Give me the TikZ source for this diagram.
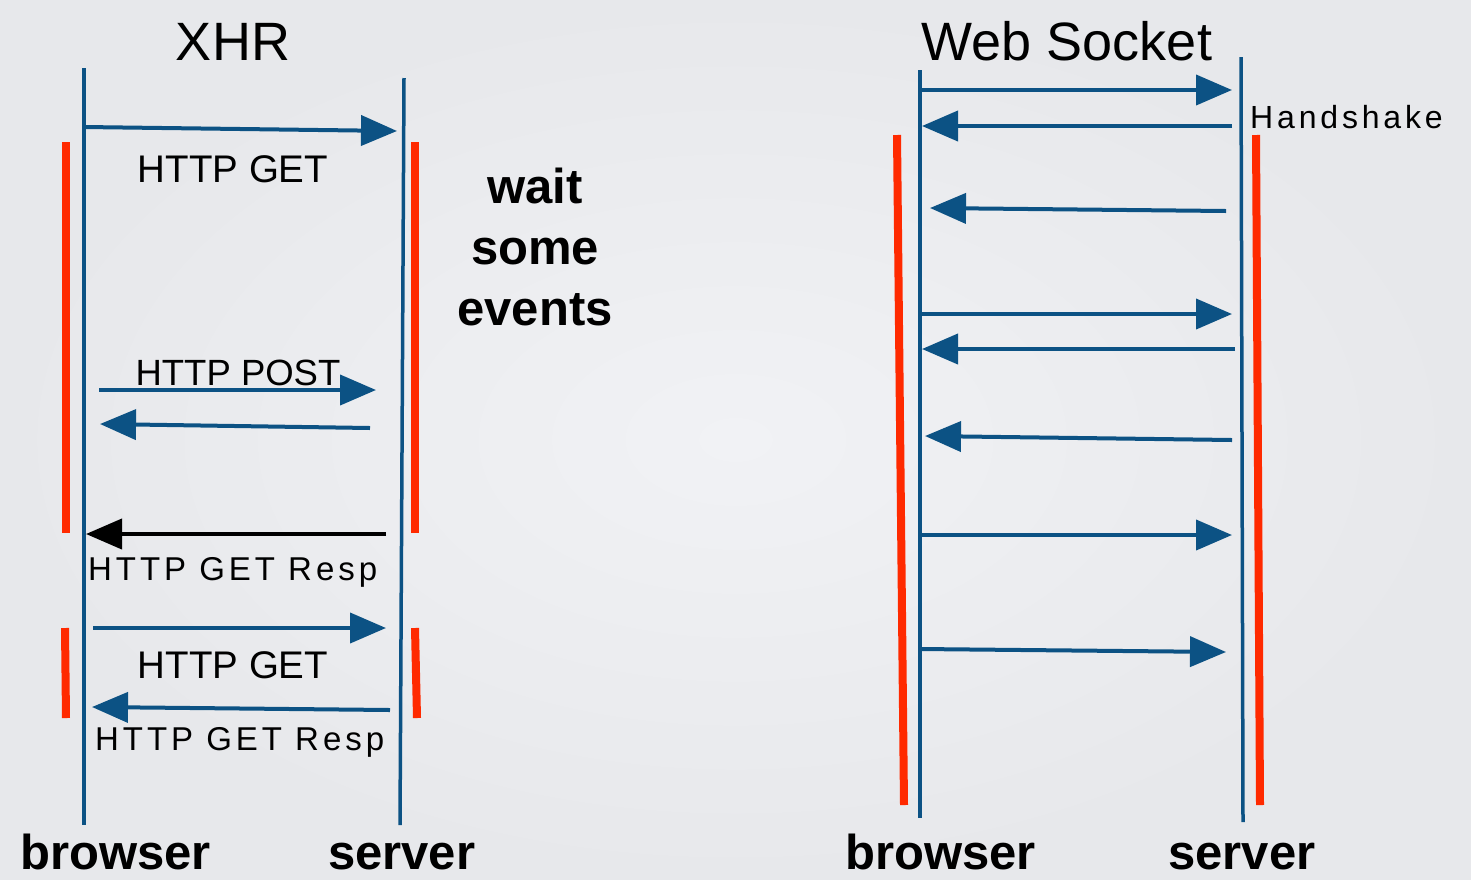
\documentclass[tikz,border=0pt]{standalone}
\usepackage{fontspec}
\setmainfont{Liberation Sans}
\newfontfamily\widefont[LetterSpace=12]{Liberation Sans}
\usetikzlibrary{arrows.meta}
\definecolor{wire}{RGB}{12,82,132}
\definecolor{busy}{RGB}{255,42,0}
\definecolor{paper}{RGB}{241,242,245}
\definecolor{paperedge}{RGB}{231,232,235}

\begin{document}
\begin{tikzpicture}[x=1pt,y=-1pt,
  life/.style={wire, line width=3.5pt},
  act/.style={busy, line width=8pt},
  msg/.style={wire, line width=4pt, -{Triangle[length=36pt,width=30pt]}},
  title/.style={inner sep=0pt, anchor=base, font=\fontsize{54}{60}\selectfont},
  party/.style={inner sep=0pt, anchor=base west, font=\fontsize{49}{58}\selectfont\bfseries},
  tag/.style={inner sep=0pt, anchor=base, font=\fontsize{38.5}{44}\selectfont},
  resp/.style={inner sep=0pt, anchor=base west, font=\widefont\fontsize{33}{38}\selectfont}]

\useasboundingbox (0,0) rectangle (1471,879);
\shade[inner color=paper, outer color=paperedge] (0,0) rectangle (1471,879);

% ---- XHR ----
\node[title] (xhr) at (233,60) {XHR};

\coordinate (xb) at (84,68);  \coordinate (xbe) at (84,825);
\coordinate (xs) at (404,78); \coordinate (xse) at (400,825);
\draw[life] (xb) -- (xbe);
\draw[life] (xs) -- (xse);

\draw[act] (66,142) -- (66,533);
\draw[act] (415,142) -- (415,533);
\draw[act] (65,628) -- (66,718);
\draw[act] (415,628) -- (417,718);

\coordinate (g1a) at (84,127);  \coordinate (g1b) at (397,131);
\coordinate (p1a) at (99,390);  \coordinate (p1b) at (376,390);
\coordinate (p2a) at (370,428); \coordinate (p2b) at (100,424);
\coordinate (r1a) at (386,534); \coordinate (r1b) at (86,534);
\coordinate (g2a) at (93,628);  \coordinate (g2b) at (386,628);
\coordinate (r2a) at (390,710); \coordinate (r2b) at (92,707);

\draw[msg] (g1a) -- (g1b);
\draw[msg] (p1a) -- (p1b);
\draw[msg] (p2a) -- (p2b);
\draw[msg, black] (r1a) -- (r1b);
\draw[msg] (g2a) -- (g2b);
\draw[msg] (r2a) -- (r2b);

\node[tag] (get1) at (233,182) {HTTP GET};
\node[tag, font=\fontsize{36.5}{44}\selectfont] (post) at (238,385) {HTTP POST};
\node[resp] (resp1) at (88,580) {HTTP GET Resp};
\node[tag] (get2) at (233,678) {HTTP GET};
\node[resp] (resp2) at (95,750) {HTTP GET Resp};

% last line sits on the given point
\node[inner sep=0pt, anchor=base, align=center,
  font=\fontsize{49}{61}\selectfont\bfseries] (wait) at (535,325)
  {wait\\some\\events};

\node[party] (xbrowser) at (20,869) {browser};
\node[party] (xserver) at (328,869) {server};

% ---- Web Socket ----
\node[title] (ws) at (1067,60) {Web Socket};

\coordinate (wb) at (920,70);   \coordinate (wbe) at (920,818);
\coordinate (wsv) at (1241,57); \coordinate (wsve) at (1243,822);
\draw[life] (wb) -- (wbe);
\draw[life] (wsv) -- (wsve);

\draw[act] (897,135) -- (904,805);
\draw[act] (1256,135) -- (1260,805);

\coordinate (h1a) at (920,90);   \coordinate (h1b) at (1232,90);
\coordinate (h2a) at (1232,126); \coordinate (h2b) at (922,126);
\coordinate (m1a) at (1226,211); \coordinate (m1b) at (930,208);
\coordinate (m2a) at (920,314);  \coordinate (m2b) at (1232,314);
\coordinate (m3a) at (1235,349); \coordinate (m3b) at (922,349);
\coordinate (m4a) at (1232,440); \coordinate (m4b) at (925,436);
\coordinate (m5a) at (920,535);  \coordinate (m5b) at (1232,535);
\coordinate (m6a) at (920,649);  \coordinate (m6b) at (1226,652);

\foreach \f/\t in {h1a/h1b,h2a/h2b,m1a/m1b,m2a/m2b,m3a/m3b,m4a/m4b,m5a/m5b,m6a/m6b}
  \draw[msg] (\f) -- (\t);

\node[inner sep=0pt, anchor=base west, font=\widefont\fontsize{32}{36}\selectfont]
  (hs) at (1250,128) {Handshake};

\node[party] (wbrowser) at (845,869) {browser};
\node[party] (wserver) at (1168,869) {server};
\end{tikzpicture}
\end{document}
